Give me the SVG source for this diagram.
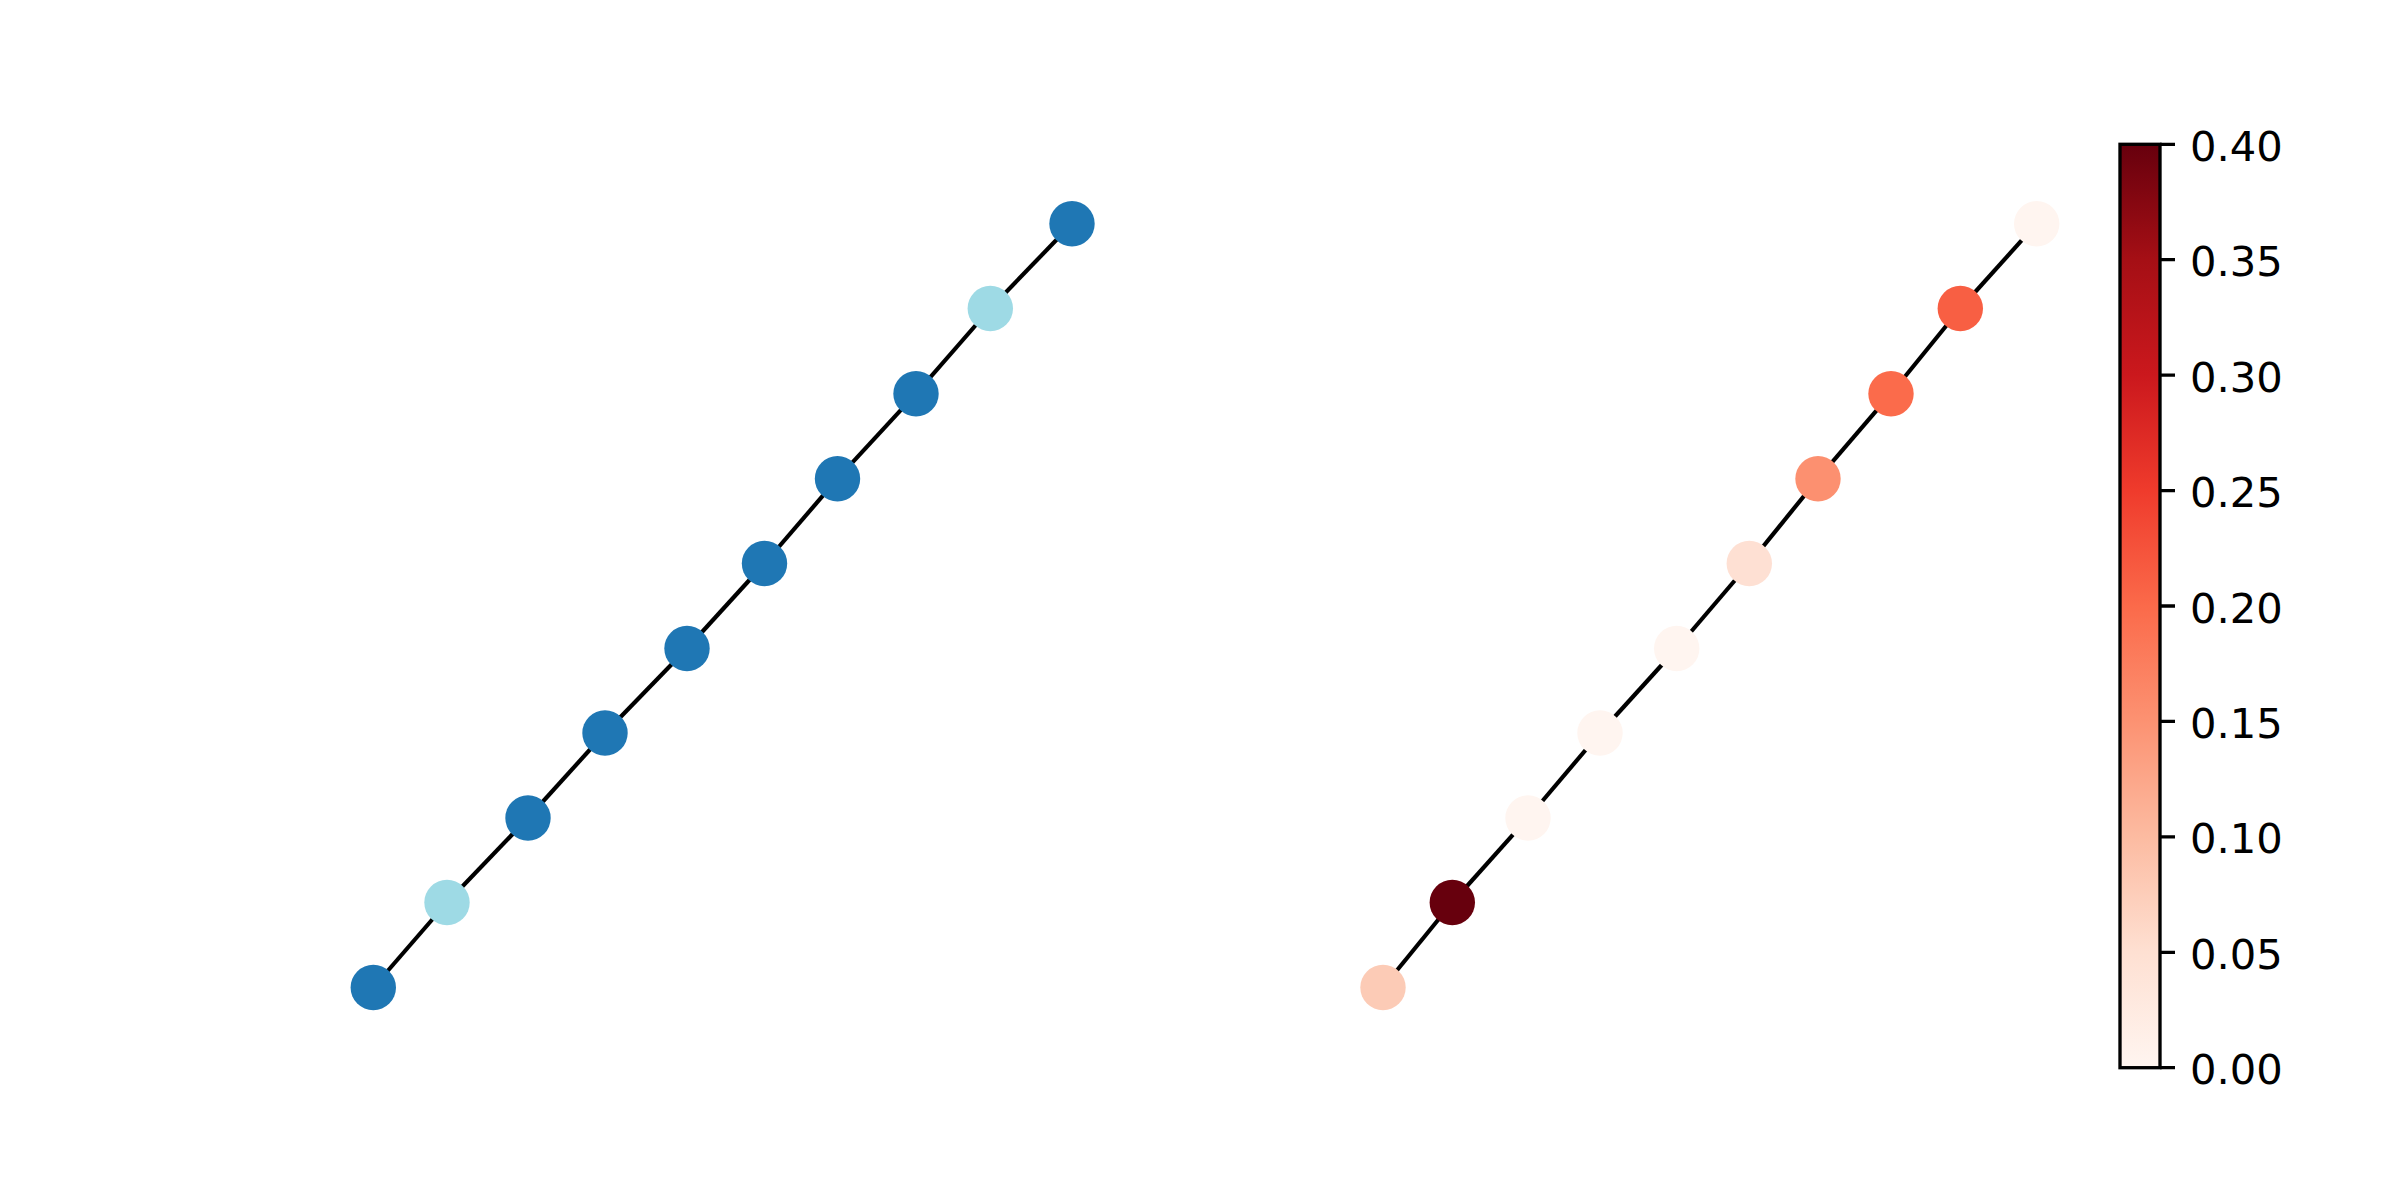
<svg xmlns="http://www.w3.org/2000/svg" width="2400" height="1200" viewBox="0 0 2400 1200">
<style>
.edge{stroke:#000;stroke-width:4.17;fill:none;stroke-linecap:butt}
.n{stroke:none}
.b{fill:#1f77b4}
.l{fill:#9edae5}
.tick{stroke:#000;stroke-width:3.33}
.lbl{font-family:"DejaVu Sans",sans-serif;font-size:41.67px;fill:#000}
</style>
<defs>
<linearGradient id="reds" x1="0" y1="1" x2="0" y2="0">
<stop offset="0" stop-color="#fff5f0"/>
<stop offset="0.125" stop-color="#fee0d2"/>
<stop offset="0.25" stop-color="#fcbba1"/>
<stop offset="0.375" stop-color="#fc9272"/>
<stop offset="0.5" stop-color="#fb6a4a"/>
<stop offset="0.625" stop-color="#ef3b2c"/>
<stop offset="0.75" stop-color="#cb181d"/>
<stop offset="0.875" stop-color="#a50f15"/>
<stop offset="1" stop-color="#67000d"/>
</linearGradient>
</defs>
<rect x="0" y="0" width="2400" height="1200" fill="#fff"/>
<g id="connectors">
<path class="edge" d="M373.3 987.5L447 902.5"/>
<path class="edge" d="M447 902.5L528 818"/>
<path class="edge" d="M528 818L605 733"/>
<path class="edge" d="M605 733L687 648.5"/>
<path class="edge" d="M687 648.5L764.5 563.5"/>
<path class="edge" d="M764.5 563.5L837.5 478.7"/>
<path class="edge" d="M837.5 478.7L916 393.7"/>
<path class="edge" d="M916 393.7L990.3 308.5"/>
<path class="edge" d="M990.3 308.5L1072 223.7"/>
<path class="edge" d="M1383 987.5L1452.3 902.5"/>
<path class="edge" d="M1452.3 902.5L1528 818"/>
<path class="edge" d="M1528 818L1600 733"/>
<path class="edge" d="M1600 733L1676.7 648.5"/>
<path class="edge" d="M1676.7 648.5L1749.3 563.5"/>
<path class="edge" d="M1749.3 563.5L1818 478.7"/>
<path class="edge" d="M1818 478.7L1891 393.7"/>
<path class="edge" d="M1891 393.7L1960.3 308.5"/>
<path class="edge" d="M1960.3 308.5L2036.7 223.7"/>
</g>
<g id="a1"><circle class="n b" cx="373.3" cy="987.5" r="22.7"/></g>
<g id="a2"><circle class="n l" cx="447" cy="902.5" r="22.7"/></g>
<g id="a3"><circle class="n b" cx="528" cy="818" r="22.7"/></g>
<g id="a4"><circle class="n b" cx="605" cy="733" r="22.7"/></g>
<g id="a5"><circle class="n b" cx="687" cy="648.5" r="22.7"/></g>
<g id="a6"><circle class="n b" cx="764.5" cy="563.5" r="22.7"/></g>
<g id="a7"><circle class="n b" cx="837.5" cy="478.7" r="22.7"/></g>
<g id="a8"><circle class="n b" cx="916" cy="393.7" r="22.7"/></g>
<g id="a9"><circle class="n l" cx="990.3" cy="308.5" r="22.7"/></g>
<g id="a10"><circle class="n b" cx="1072" cy="223.7" r="22.7"/></g>
<g id="b1"><circle class="n" fill="#fccbb6" cx="1383" cy="987.5" r="22.7"/></g>
<g id="b2"><circle class="n" fill="#67000d" cx="1452.3" cy="902.5" r="22.7"/></g>
<g id="b3"><circle class="n" fill="#fff5f0" cx="1528" cy="818" r="22.7"/></g>
<g id="b4"><circle class="n" fill="#fff5f0" cx="1600" cy="733" r="22.7"/></g>
<g id="b5"><circle class="n" fill="#fff5f0" cx="1676.7" cy="648.5" r="22.7"/></g>
<g id="b6"><circle class="n" fill="#fee0d3" cx="1749.3" cy="563.5" r="22.7"/></g>
<g id="b7"><circle class="n" fill="#fc9070" cx="1818" cy="478.7" r="22.7"/></g>
<g id="b8"><circle class="n" fill="#fb6b4b" cx="1891" cy="393.7" r="22.7"/></g>
<g id="b9"><circle class="n" fill="#f85f43" cx="1960.3" cy="308.5" r="22.7"/></g>
<g id="b10"><circle class="n" fill="#fff5f0" cx="2036.7" cy="223.7" r="22.7"/></g>
<g id="colorbar">
<rect x="2120" y="144.3" width="40" height="923.4" fill="url(#reds)"/>
<rect x="2120" y="144.3" width="40" height="923.4" fill="none" stroke="#000" stroke-width="3.33"/>
<path class="tick" d="M2160 1067.7H2175M2160 952.3H2175M2160 836.9H2175M2160 721.4H2175M2160 606H2175M2160 490.6H2175M2160 375.1H2175M2160 259.7H2175M2160 144.3H2175"/>
<text class="lbl" x="2190" y="1084.2">0.00</text>
<text class="lbl" x="2190" y="968.8">0.05</text>
<text class="lbl" x="2190" y="853.4">0.10</text>
<text class="lbl" x="2190" y="737.9">0.15</text>
<text class="lbl" x="2190" y="622.5">0.20</text>
<text class="lbl" x="2190" y="507.1">0.25</text>
<text class="lbl" x="2190" y="391.6">0.30</text>
<text class="lbl" x="2190" y="276.2">0.35</text>
<text class="lbl" x="2190" y="160.8">0.40</text>
</g>
</svg>
